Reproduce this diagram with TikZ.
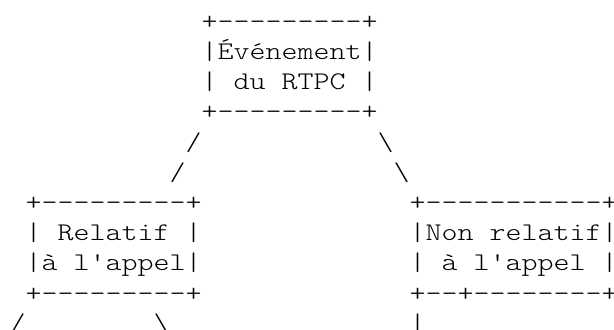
\documentclass[tikz,border=0pt]{standalone}
\usepackage{tikz}
\tikzstyle{ascii}=[anchor=west,inner sep=0pt,text height=10pt,text depth=0pt,font=\ttfamily\fontseries{l}\fontsize{19.05}{19.05}\selectfont]
\newcommand\wide[1]{\scalebox{1.2}[1]{#1}}
\tikzset{every picture/.style={
    x=12pt,y=-22.65pt
  }
}
\begin{document}
\begin{tikzpicture}
      \useasboundingbox (-0.581,-0.752) rectangle (37.794,10.142);
      \node[ascii] at (12,0) (evttop) {\wide{+---------+}};
      \node[ascii] at (12,1) (evtname) {\wide{|Événement|}};
      \node[ascii] at (12,2) (evtsub) {\wide{| du RTPC |}};
      \node[ascii] at (12,3) (evtbot) {\wide{+---------+}};
      \node[ascii] at (11,4) (upl) {\wide{/}};
      \node[ascii] at (23,4) (upr) {\wide{\textbackslash}};
      \node[ascii] at (10,5) (lowl) {\wide{/}};
      \node[ascii] at (24,5) (lowr) {\wide{\textbackslash}};
      \node[ascii] at (1,6) (reltop) {\wide{+---------+}};
      \node[ascii] at (1,7) (relname) {\wide{| Relatif |}};
      \node[ascii] at (1,8) (relsub) {\wide{|à l\textquotesingle appel|}};
      \node[ascii] at (1,9) (relbot) {\wide{+---------+}};
      \node[ascii] at (25,6) (nreltop) {\wide{+-----------+}};
      \node[ascii] at (25,7) (nrelname) {\wide{|Non relatif|}};
      \node[ascii] at (25,8) (nrelsub) {\wide{| à l\textquotesingle appel |}};
      \node[ascii] at (25,9) (nrelbot) {\wide{+--+--------+}};
      \node[ascii] at (0,10) (relleft) {\wide{/}};
      \node[ascii] at (9,10) (relright) {\wide{\textbackslash}};
      \node[ascii] at (25,10) (nreldown) {\wide{|}};
    \end{tikzpicture}
\end{document}
